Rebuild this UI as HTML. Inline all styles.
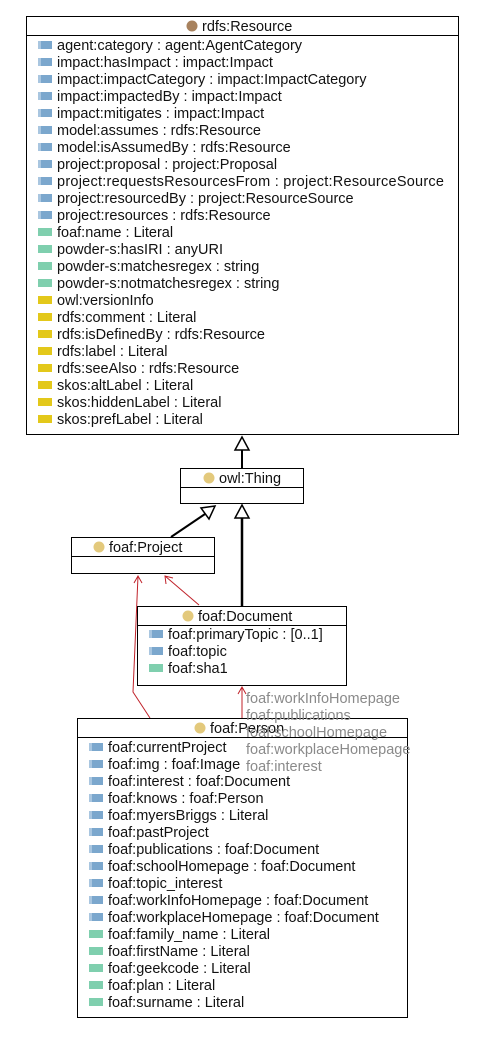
<!DOCTYPE html>
<html><head><meta charset="utf-8"><style>
html,body{margin:0;padding:0;background:#fff;}
svg{display:block;font-family:"Liberation Sans",sans-serif;font-size:14.5px;}
.t{fill:#111;}
.g{fill:#8a8a8a;}
</style></head><body>
<svg width="493" height="1041" viewBox="0 0 493 1041" xmlns="http://www.w3.org/2000/svg">
<defs>
<g id="ib"><rect x="0" y="-4" width="14" height="8" fill="#7ba7cd"/><rect x="0" y="-4" width="3" height="8" fill="#a9c6e0"/></g>
<g id="ig"><rect x="0" y="-4" width="14" height="8" fill="#7fcfae"/></g>
<g id="iy"><rect x="0" y="-4" width="14" height="8" fill="#e3c81a"/></g>
</defs>
<rect x="26.5" y="16.5" width="432" height="418" fill="#fff" stroke="#000"/>
<line x1="26" y1="35.5" x2="458" y2="35.5" stroke="#000"/>
<circle cx="192" cy="26" r="5.5" fill="#a8825e"/>
<text class="t" x="202" y="31">rdfs:Resource</text>
<g class="t">
<use href="#ib" x="38" y="45"/><text x="57" y="50">agent:category : agent:AgentCategory</text>
<use href="#ib" x="38" y="62"/><text x="57" y="67">impact:hasImpact : impact:Impact</text>
<use href="#ib" x="38" y="79"/><text x="57" y="84">impact:impactCategory : impact:ImpactCategory</text>
<use href="#ib" x="38" y="96"/><text x="57" y="101">impact:impactedBy : impact:Impact</text>
<use href="#ib" x="38" y="113"/><text x="57" y="118">impact:mitigates : impact:Impact</text>
<use href="#ib" x="38" y="130"/><text x="57" y="135">model:assumes : rdfs:Resource</text>
<use href="#ib" x="38" y="147"/><text x="57" y="152">model:isAssumedBy : rdfs:Resource</text>
<use href="#ib" x="38" y="164"/><text x="57" y="169">project:proposal : project:Proposal</text>
<use href="#ib" x="38" y="181"/><text x="57" y="186" textLength="387">project:requestsResourcesFrom : project:ResourceSource</text>
<use href="#ib" x="38" y="198"/><text x="57" y="203">project:resourcedBy : project:ResourceSource</text>
<use href="#ib" x="38" y="215"/><text x="57" y="220">project:resources : rdfs:Resource</text>
<use href="#ig" x="38" y="232"/><text x="57" y="237">foaf:name : Literal</text>
<use href="#ig" x="38" y="249"/><text x="57" y="254">powder-s:hasIRI : anyURI</text>
<use href="#ig" x="38" y="266"/><text x="57" y="271">powder-s:matchesregex : string</text>
<use href="#ig" x="38" y="283"/><text x="57" y="288">powder-s:notmatchesregex : string</text>
<use href="#iy" x="38" y="300"/><text x="57" y="305">owl:versionInfo</text>
<use href="#iy" x="38" y="317"/><text x="57" y="322">rdfs:comment : Literal</text>
<use href="#iy" x="38" y="334"/><text x="57" y="339">rdfs:isDefinedBy : rdfs:Resource</text>
<use href="#iy" x="38" y="351"/><text x="57" y="356">rdfs:label : Literal</text>
<use href="#iy" x="38" y="368"/><text x="57" y="373">rdfs:seeAlso : rdfs:Resource</text>
<use href="#iy" x="38" y="385"/><text x="57" y="390">skos:altLabel : Literal</text>
<use href="#iy" x="38" y="402"/><text x="57" y="407">skos:hiddenLabel : Literal</text>
<use href="#iy" x="38" y="419"/><text x="57" y="424">skos:prefLabel : Literal</text>
</g>
<line x1="242" y1="468" x2="242" y2="450" stroke="#000" stroke-width="2"/>
<polygon points="242,437 235,450 249,450" fill="#fff" stroke="#000" stroke-width="1.5"/>
<rect x="180.5" y="468.5" width="123" height="35" fill="#fff" stroke="#000"/>
<line x1="180" y1="487.5" x2="303" y2="487.5" stroke="#000"/>
<circle cx="209" cy="478" r="5.5" fill="#e3c97c"/>
<text class="t" x="219" y="483">owl:Thing</text>
<line x1="242" y1="606" x2="242" y2="518" stroke="#000" stroke-width="2.5"/>
<polygon points="242,505 235,518 249,518" fill="#fff" stroke="#000" stroke-width="1.5"/>
<line x1="171" y1="537" x2="208" y2="512" stroke="#000" stroke-width="2"/>
<polygon points="215,506 201,508 209,519" fill="#fff" stroke="#000" stroke-width="1.5"/>
<rect x="71.5" y="537.5" width="143" height="36" fill="#fff" stroke="#000"/>
<line x1="71" y1="556.5" x2="214" y2="556.5" stroke="#000"/>
<circle cx="99" cy="547" r="5.5" fill="#e3c97c"/>
<text class="t" x="109" y="552">foaf:Project</text>
<g stroke="#c0222a" fill="none" stroke-width="1">
<polyline points="150,718 133,692 138,576"/>
<polyline points="134,583 138,576 142,583"/>
<line x1="199" y1="605" x2="165" y2="576"/>
<polyline points="166,584 165,576 173,578"/>
<line x1="242" y1="718" x2="242" y2="687"/>
<polyline points="238,694 242,687 246,694"/>
</g>
<rect x="137.5" y="606.5" width="209" height="79" fill="#fff" stroke="#000"/>
<line x1="137" y1="625.5" x2="346" y2="625.5" stroke="#000"/>
<circle cx="188" cy="616" r="5.5" fill="#e3c97c"/>
<text class="t" x="198" y="621">foaf:Document</text>
<g class="t">
<use href="#ib" x="149" y="634"/><text x="168" y="639">foaf:primaryTopic : [0..1]</text>
<use href="#ib" x="149" y="651"/><text x="168" y="656">foaf:topic</text>
<use href="#ig" x="149" y="668"/><text x="168" y="673">foaf:sha1</text>
</g>
<rect x="77.5" y="718.5" width="330" height="299" fill="#fff" stroke="#000"/>
<line x1="77" y1="737.5" x2="407" y2="737.5" stroke="#000"/>
<circle cx="200" cy="728" r="5.5" fill="#e3c97c"/>
<text class="t" x="210" y="733">foaf:Person</text>
<g class="t">
<use href="#ib" x="89" y="747"/><text x="108" y="752">foaf:currentProject</text>
<use href="#ib" x="89" y="764"/><text x="108" y="769">foaf:img : foaf:Image</text>
<use href="#ib" x="89" y="781"/><text x="108" y="786">foaf:interest : foaf:Document</text>
<use href="#ib" x="89" y="798"/><text x="108" y="803">foaf:knows : foaf:Person</text>
<use href="#ib" x="89" y="815"/><text x="108" y="820">foaf:myersBriggs : Literal</text>
<use href="#ib" x="89" y="832"/><text x="108" y="837">foaf:pastProject</text>
<use href="#ib" x="89" y="849"/><text x="108" y="854">foaf:publications : foaf:Document</text>
<use href="#ib" x="89" y="866"/><text x="108" y="871">foaf:schoolHomepage : foaf:Document</text>
<use href="#ib" x="89" y="883"/><text x="108" y="888">foaf:topic_interest</text>
<use href="#ib" x="89" y="900"/><text x="108" y="905">foaf:workInfoHomepage : foaf:Document</text>
<use href="#ib" x="89" y="917"/><text x="108" y="922">foaf:workplaceHomepage : foaf:Document</text>
<use href="#ig" x="89" y="934"/><text x="108" y="939">foaf:family_name : Literal</text>
<use href="#ig" x="89" y="951"/><text x="108" y="956">foaf:firstName : Literal</text>
<use href="#ig" x="89" y="968"/><text x="108" y="973">foaf:geekcode : Literal</text>
<use href="#ig" x="89" y="985"/><text x="108" y="990">foaf:plan : Literal</text>
<use href="#ig" x="89" y="1002"/><text x="108" y="1007">foaf:surname : Literal</text>
</g>
<g class="g">
<text x="246" y="703">foaf:workInfoHomepage</text>
<text x="246" y="720">foaf:publications</text>
<text x="246" y="737">foaf:schoolHomepage</text>
<text x="246" y="754">foaf:workplaceHomepage</text>
<text x="246" y="771">foaf:interest</text>
</g>
</svg>
</body></html>
